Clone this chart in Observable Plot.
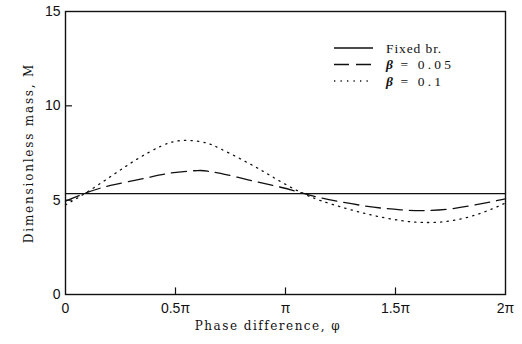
<!DOCTYPE html>
<html><head><meta charset="utf-8">
<script src="https://cdn.jsdelivr.net/npm/d3@7"></script>
<script src="https://cdn.jsdelivr.net/npm/@observablehq/plot@0.6"></script>
<style>body{margin:0;background:#fff}</style>
</head><body><div id="chart"></div>
<script>
// phase in units of π, M = dimensionless mass
const fixedPhase = [0, 2];
const fixedM = [5.35, 5.35];
const beta005Phase = [0, 0.09, 0.205, 0.355, 0.468, 0.6, 0.65, 0.705, 0.83, 0.932, 1.036, 1.127, 1.26, 1.40, 1.523, 1.627, 1.75, 1.886, 2.0];
const beta005M     = [4.95, 5.37, 5.78, 6.15, 6.42, 6.57, 6.53, 6.42, 6.08, 5.81, 5.51, 5.21, 4.89, 4.63, 4.49, 4.45, 4.54, 4.80, 5.07];
const beta01Phase = [0, 0.09, 0.205, 0.318, 0.432, 0.51, 0.58, 0.645, 0.705, 0.795, 0.886, 0.977, 1.068, 1.159, 1.282, 1.40, 1.523, 1.627, 1.75, 1.886, 2.0];
const beta01M     = [4.75, 5.37, 6.25, 7.12, 7.85, 8.14, 8.15, 8.02, 7.72, 7.19, 6.61, 5.99, 5.42, 4.98, 4.54, 4.19, 3.92, 3.82, 3.90, 4.30, 4.85];

const xTicks = [0, 0.5, 1, 1.5, 2];
const xTickLabels = ["0", "0.5π", "π", "1.5π", "2π"];
const yTicks = [0, 5, 10, 15];
const xTitle = "Phase difference, φ";
const yTitle = "Dimensionless mass, M";
const legendLabels = [["Fixed br.", ""], ["β", " = 0.05"], ["β", " = 0.1"]];
const dashes = [null, "15,7", "1.3,5.2"];

const toRows = (xs, ys) => xs.map((x, i) => ({x, y: ys[i]}));
const series = [toRows(fixedPhase, fixedM), toRows(beta005Phase, beta005M), toRows(beta01Phase, beta01M)];
const ink = "#111";

const plot = Plot.plot({
  width: 522, height: 344,
  marginLeft: 65, marginRight: 17, marginTop: 11, marginBottom: 50,
  x: {domain: [0, 2]},
  y: {domain: [0, 15]},
  style: {fontFamily: "'Liberation Sans', sans-serif", fontSize: "14px", color: ink, background: "#fff"},
  marks: [
    Plot.frame({stroke: ink, strokeWidth: 1.4}),
    Plot.axisX(xTicks, {tickSize: 0, tickPadding: 9, tickFormat: d => xTickLabels[xTicks.indexOf(d)], label: null, fontSize: 14}),
    Plot.axisY(yTicks, {tickSize: 0, tickPadding: 5, label: null, fontSize: 14}),
    Plot.ruleX(xTicks.slice(1, -1), {x: d => d, y1: 0, y2: 0.35, stroke: ink, strokeWidth: 1.2}),
    Plot.ruleY(yTicks.slice(1, -1), {y: d => d, x1: 0, x2: 0.032, stroke: ink, strokeWidth: 1.2}),
    ...series.map((s, i) => Plot.line(s, {x: "x", y: "y", stroke: ink, strokeWidth: 1.3, strokeDasharray: dashes[i], curve: "natural"}))
  ]
});
document.getElementById("chart").append(plot);

const svg = d3.select(plot);
const titleFont = "'DejaVu Serif', serif";
svg.append("text").attr("x", 268).attr("y", 330).attr("text-anchor", "middle")
  .attr("font-family", titleFont).attr("font-size", 12).attr("letter-spacing", "1.5px").attr("fill", ink).text(xTitle);
svg.append("text").attr("transform", "translate(33,153) rotate(-90)").attr("text-anchor", "middle")
  .attr("font-family", titleFont).attr("font-size", 12).attr("letter-spacing", "1.8px").attr("fill", ink).text(yTitle);

const lg = svg.append("g").attr("text-anchor", "start");
legendLabels.forEach((lab, i) => {
  const y = 48 + i * 16.5;
  lg.append("line").attr("x1", 334).attr("x2", 373).attr("y1", y).attr("y2", y)
    .attr("stroke", ink).attr("stroke-width", 1.3).attr("stroke-dasharray", dashes[i]);
  const t = lg.append("text").attr("x", 386).attr("y", y + 4.5).attr("text-anchor", "start")
    .attr("font-family", "'Liberation Serif', serif")
    .attr("font-size", 13.5).attr("fill", ink).attr("letter-spacing", "0.9px");
  if (lab[0] === "β") {
    t.append("tspan").attr("font-style", "italic").attr("font-weight", "bold").text("β");
    t.append("tspan").style("white-space", "pre").attr("letter-spacing", "3.2px").text(lab[1]);
  } else {
    t.text(lab[0]);
  }
});
</script>
</body></html>
